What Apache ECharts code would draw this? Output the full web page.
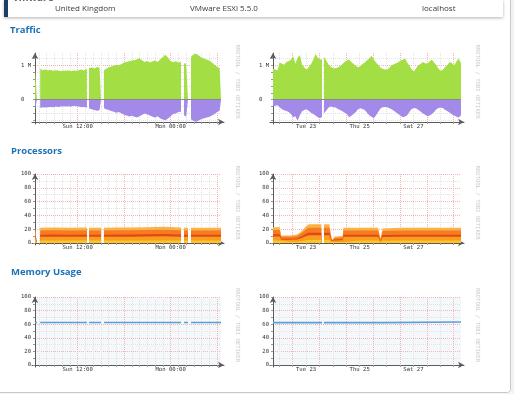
<!DOCTYPE html>
<html><head><meta charset="utf-8">
<script src="https://cdn.jsdelivr.net/npm/echarts@6/dist/echarts.min.js"></script>
<style>html,body{margin:0;padding:0;background:#fff}#c{width:514px;height:394px}</style>
</head><body><div id="c"></div><script>
// ---------- DATA ----------
const headerTexts = ['United Kingdom', 'VMware ESXi 5.5.0', 'localhost'];
const sectionTitles = ['Traffic', 'Processors', 'Memory Usage'];
const watermark = 'RRDTOOL / TOBI OETIKER';

// day graph: hours since Sun 00:00
const dayXLabelValues = [12, 24];
const dayXLabels = ['Sun 12:00', 'Mon 00:00'];
const dayXMinor = [7,8,9,10,11,12,13,14,15,16,17,18,19,20,21,22,23,24,25,26,27,28,29,30];
const dayXMajor = [12, 18, 24, 30];
// week graph: hours since Mon 22 00:00
const weekXLabelValues = [36, 84, 132];
const weekXLabels = ['Tue 23', 'Thu 25', 'Sat 27'];
const weekXMinor = [12,24,36,48,60,72,84,96,108,120,132,144,156,168];
const weekXMajor = [24,48,72,96,120,144,168];

const trafficYLabelValues = [0, 1];
const trafficYLabels = ['0  ', '1 M'];
const trafficYMinor = [-0.6,-0.4,-0.2,0,0.2,0.4,0.6,0.8,1,1.2];
const trafficYMajor = [0, 1];
const pctYLabelValues = [0, 20, 40, 60, 80, 100];
const pctYLabels = ['0', '20', '40', '60', '80', '100'];
const pctYMinor = [0,10,20,30,40,50,60,70,80,90,100];
const pctYMajor = [20,40,60,80,100];

// Traffic (M), day
const dayTimes = [6.5,6.75,6.9,
 7.17,7.5,7.83,8.17,8.5,8.83,9.17,9.5,9.83,10.17,10.5,10.83,11.17,11.5,11.83,12.17,12.5,12.83,13.2,13.3,
 13.47,13.83,14.17,14.5,14.83,15.02,15.2,
 15.4,15.67,16.0,16.33,16.67,17.0,17.33,17.67,18.0,18.33,18.67,19.0,19.33,19.67,20.0,20.33,20.67,21.0,21.33,21.67,22.0,22.33,22.67,23.0,23.33,23.67,24.0,24.33,24.67,25.0,25.34,25.5,
 25.73,26.0,26.24,26.4,
 26.63,27.0,27.33,27.67,28.0,28.33,28.67,29.0,29.33,29.67,30.0,30.33,30.5];
const dayInbound = [0.94,0.92,null,
 0.90,0.86,0.88,0.85,0.87,0.84,0.86,0.85,0.83,0.85,0.84,0.86,0.83,0.85,0.84,0.86,0.88,0.85,0.90,null,
 0.92,0.94,0.91,0.95,0.93,0.96,null,
 0.86,0.90,0.94,0.97,0.99,1.02,1.00,1.04,1.08,1.10,1.12,1.14,1.15,1.18,1.21,1.14,1.10,1.13,1.08,1.12,1.14,1.10,1.18,1.24,1.31,1.22,1.12,1.10,1.12,1.08,1.10,null,
 1.06,1.05,1.07,null,
 1.25,1.32,1.34,1.28,1.22,1.20,1.16,1.14,1.08,1.02,0.96,0.92,0.90];
const dayOutbound = [-0.30,-0.32,null,
 -0.24,-0.22,-0.23,-0.22,-0.21,-0.22,-0.20,-0.21,-0.20,-0.19,-0.20,-0.19,-0.20,-0.18,-0.19,-0.20,-0.22,-0.21,-0.23,null,
 -0.26,-0.28,-0.30,-0.32,-0.31,-0.34,null,
 -0.25,-0.28,-0.30,-0.33,-0.35,-0.38,-0.36,-0.40,-0.44,-0.46,-0.49,-0.47,-0.50,-0.52,-0.48,-0.44,-0.40,-0.43,-0.46,-0.50,-0.52,-0.48,-0.55,-0.58,-0.60,-0.55,-0.48,-0.42,-0.40,-0.36,-0.35,null,
 -0.45,-0.50,-0.48,null,
 -0.58,-0.62,-0.64,-0.60,-0.56,-0.54,-0.52,-0.50,-0.46,-0.42,-0.36,-0.32,-0.30];

// Traffic (M), week
const weekTimes = [6.5,8.5,10.5,12.5,14.5,16.5,18.5,20.5,22.5,24.5,26.5,28.5,30.5,32.5,34.5,36.5,38.5,40.5,42.5,44.5,46.5,48.5,
 50.3,51.0,52.0,
 54.5,56.5,58.5,60.5,62.5,64.5,66.5,68.5,70.5,72.5,74.5,76.5,78.5,80.5,82.5,84.5,86.5,88.5,90.5,92.5,
 94.5,96.5,98.5,100.5,102.5,104.5,106.5,108.5,110.5,112.5,114.5,116.5,118.5,120.5,122.5,124.5,126.5,128.5,130.5,132.5,
 134.5,136.5,138.5,140.5,142.5,144.5,146.5,148.5,150.5,152.5,154.5,156.5,158.5,160.5,162.5,164.5,166.5,168.5,170.5,172.5,174.5];
const weekInbound = [0.91,0.88,0.86,1.08,1.05,1.02,1.10,1.12,1.16,1.27,1.05,1.22,1.30,1.02,0.94,0.88,0.95,1.04,1.16,1.33,1.22,1.18,
 1.17,null,1.25,
 1.12,1.00,0.95,0.91,0.92,0.94,0.98,1.04,1.10,1.14,1.17,1.10,1.04,0.99,0.94,0.98,1.04,1.08,1.15,1.20,
 1.28,1.18,1.08,1.02,0.94,0.90,0.88,0.88,0.93,1.00,1.03,1.06,1.09,1.14,1.16,1.20,1.08,0.98,0.88,0.82,
 0.92,1.00,1.05,1.10,1.06,1.05,1.12,1.16,1.08,1.00,0.90,0.84,0.88,0.96,1.02,1.10,1.06,1.00,1.12,1.20,1.06];
const weekOutbound = [-0.20,-0.18,-0.16,-0.22,-0.28,-0.31,-0.33,-0.36,-0.42,-0.51,-0.48,-0.61,-0.45,-0.34,-0.30,-0.28,-0.33,-0.38,-0.42,-0.46,-0.51,-0.54,
 -0.50,null,-0.40,
 -0.30,-0.22,-0.20,-0.22,-0.23,-0.27,-0.30,-0.34,-0.38,-0.42,-0.51,-0.47,-0.42,-0.36,-0.28,-0.25,-0.27,-0.30,-0.38,-0.45,
 -0.50,-0.54,-0.46,-0.36,-0.26,-0.22,-0.21,-0.22,-0.25,-0.28,-0.32,-0.37,-0.42,-0.47,-0.51,-0.49,-0.45,-0.35,-0.27,-0.24,
 -0.26,-0.30,-0.35,-0.40,-0.44,-0.48,-0.46,-0.42,-0.36,-0.28,-0.24,-0.23,-0.25,-0.30,-0.34,-0.38,-0.43,-0.46,-0.50,-0.52,-0.45];

// Processors (%), stacked layers bottom -> top
const dayCpuTimes = [6.5,6.75,6.9,7.17,9,11,13.2,13.3,13.47,15.02,15.2,15.4,17,19,21,23,25.34,25.5,25.73,26.24,26.4,26.63,28.5,30.5];
const dayCpu1 = [3.5,3.5,null,3.5,3.6,3.5,3.6,null,3.5,3.5,null,3.5,3.6,3.6,3.7,3.8,3.6,null,3.5,3.5,null,3.5,3.5,3.5];
const dayCpu2 = [5.5,5.5,null,5.5,5.6,5.5,5.6,null,5.5,5.5,null,5.5,5.6,5.6,5.8,5.9,5.6,null,5.5,5.5,null,5.5,5.5,5.5];
const dayCpu3 = [3.0,3.0,null,3.0,3.1,3.0,3.1,null,3.0,3.0,null,3.0,3.1,3.1,3.2,3.2,3.1,null,3.0,3.0,null,3.0,3.0,3.0];
const dayCpu4 = [6.0,6.0,null,6.0,6.1,6.0,6.1,null,6.0,6.0,null,6.0,6.1,6.1,6.2,6.4,6.1,null,6.0,6.0,null,6.0,6.0,6.0];
const dayCpu5 = [4.0,4.0,null,4.0,4.1,4.0,4.1,null,4.0,4.0,null,4.0,4.1,4.1,4.1,4.2,4.1,null,4.0,4.0,null,4.0,4.0,4.0];
const weekCpuTimes = [6.5,12.5,13.8,21.5,27.5,30.4,33.1,35.8,38.5,49.7,50.8,52.1,56.9,58.7,60.0,61.3,68.8,69.4,85,100.4,102.6,104.4,105.3,120,140,160,174.5];
const weekCpu1 = [3.7,3.7,1.8,1.8,1.9,2.4,3.0,3.8,4.3,4.3,null,4.3,4.3,1.3,0.6,1.4,1.6,3.5,3.5,3.5,1.0,3.4,3.5,3.5,3.5,3.5,3.5];
const weekCpu2 = [5.8,5.8,2.8,2.8,3.0,3.8,4.8,6.0,6.8,6.8,null,6.8,6.8,2.0,1.0,2.3,2.5,5.5,5.5,5.5,1.5,5.3,5.5,5.5,5.5,5.5,5.5];
const weekCpu3 = [3.2,3.2,1.5,1.5,1.7,2.1,2.7,3.4,3.8,3.8,null,3.8,3.8,1.1,0.6,1.3,1.4,3.1,3.1,3.1,0.8,2.9,3.1,3.1,3.1,3.1,3.1];
const weekCpu4 = [6.2,6.2,3.0,3.0,3.2,4.0,5.1,6.5,7.3,7.3,null,7.3,7.3,2.2,1.1,2.4,2.7,5.9,5.9,5.9,1.6,5.7,5.9,5.9,5.9,5.9,5.9];
const weekCpu5 = [4.1,4.1,1.9,1.9,2.2,2.7,3.4,4.3,4.8,4.8,null,4.8,4.8,1.4,0.7,1.6,1.8,4.0,4.0,4.0,1.1,3.7,4.0,4.0,4.0,4.0,4.0];

// Memory (%)
const dayMemTimes = [6.5,6.75,6.9,7.17,9,11,13.2,13.3,13.47,15.02,15.2,15.4,17,19,21,23,25.34,25.5,25.73,26.24,26.4,26.63,28.5,30.5];
const dayMem = [62.5,62.5,null,62.5,62.5,62.5,62.5,null,62.5,62.5,null,62.5,62.5,62.5,62.5,62.5,62.5,null,62.5,62.5,null,62.5,62.5,62.5];
const weekMemTimes = [6.5,50.3,51.0,52.0,104.0,104.5,174.5];
const weekMem = [62.3,62.3,null,62.3,62.3,63.2,63.2];

// ---------- STYLE / BUILD ----------
const MONO = '"DejaVu Sans Mono", monospace';
const GREEN = '#a3de44', PURPLE = '#a48ae8';
const CPU_COLORS = ['#fdc52a', '#f99d1c', '#e2471b', '#f57c1f', '#fbb148'];
const MINOR = '#e3e3e3', MAJOR = '#f5b4b4', AXIS = '#5a5a5a';
const grids = [], xAxes = [], yAxes = [], series = [], graphics = [];

function pairs(t, v) { return t.map((x, i) => [x, v[i]]); }
function lookup(vals, labs) { return v => { const i = vals.findIndex(a => Math.abs(a - v) < 1e-6); return i < 0 ? '' : labs[i]; }; }
// running totals of stacked layers (what a stacked chart draws as each layer's top edge)
function cumulate(layers) {
  const out = [];
  layers.forEach((l, k) => out.push(l.map((v, i) => (v == null || (k && out[k - 1][i] == null)) ? null : (k ? out[k - 1][i] : 0) + v)));
  return out;
}

function addPanel(p) {
  const g = grids.length;
  grids.push({left: p.left, top: p.top, width: p.width, height: p.height, show: !!p.bg,
    backgroundColor: p.bg || 'transparent', borderWidth: 0, outerBoundsMode: 'none', containLabel: false});
  grids.push({left: p.left - 3, top: p.top, width: p.width + 6, height: p.height + 2, show: false,
    outerBoundsMode: 'none', containLabel: false});
  const xi = xAxes.length, yi = yAxes.length;
  const lab = {fontFamily: MONO, fontSize: 5.6, color: '#333'};
  xAxes.push({type: 'value', gridIndex: g, min: p.xMin, max: p.xMax,
    axisLine: {show: false, onZero: false},
    axisTick: {show: true, customValues: p.xMinor, length: 2, lineStyle: {color: '#999'}},
    axisLabel: Object.assign({show: true, customValues: p.xLabVals, margin: 2, formatter: lookup(p.xLabVals, p.xLabs)}, lab),
    splitLine: {show: true, lineStyle: {color: MINOR, type: [1, 1], width: 1}}});
  xAxes.push({type: 'value', gridIndex: g, min: p.xMin, max: p.xMax,
    axisLine: {show: false, onZero: false}, axisTick: {show: false, customValues: p.xMajor},
    axisLabel: {show: false}, splitLine: {show: true, lineStyle: {color: MAJOR, type: [1, 1], width: 1}}});
  xAxes.push({type: 'value', gridIndex: g + 1, min: 0, max: 1, offset: -2,
    axisLine: {show: true, onZero: false, symbol: ['none', 'arrow'], symbolSize: [5, 6], lineStyle: {color: AXIS, width: 1}},
    axisTick: {show: false}, axisLabel: {show: false}, splitLine: {show: false}});
  yAxes.push({type: 'value', gridIndex: g, min: p.yMin, max: p.yMax,
    axisLine: {show: false, onZero: false},
    axisTick: {show: true, customValues: p.yMinor, length: 2, lineStyle: {color: '#999'}},
    axisLabel: Object.assign({show: true, customValues: p.yLabVals, margin: 4, formatter: lookup(p.yLabVals, p.yLabs)}, lab),
    splitLine: {show: true, lineStyle: {color: MINOR, type: [1, 1], width: 1}}});
  yAxes.push({type: 'value', gridIndex: g, min: p.yMin, max: p.yMax,
    axisLine: {show: false, onZero: false}, axisTick: {show: false, customValues: p.yMajor},
    axisLabel: {show: false}, splitLine: {show: true, lineStyle: {color: MAJOR, type: [1, 1], width: 1}}});
  yAxes.push({type: 'value', gridIndex: g + 1, min: 0, max: 1, offset: -3,
    axisLine: {show: true, onZero: false, symbol: ['none', 'arrow'], symbolSize: [5, 6], lineStyle: {color: AXIS, width: 1}},
    axisTick: {show: false}, axisLabel: {show: false}, splitLine: {show: false}});
  p.series.forEach(s => series.push(Object.assign({type: 'line', xAxisIndex: xi, yAxisIndex: yi, symbol: 'none',
    silent: true, animation: false, z: 3, connectNulls: false}, s)));
  graphics.push({type: 'text', x: p.left + p.width + 16, y: p.top + p.height / 2 - 6, rotation: -Math.PI / 2,
    style: {text: watermark, font: '5.6px ' + MONO, fill: '#c9c9c9', align: 'center', verticalAlign: 'middle'}});
}

function areaSeries(t, v, color) {
  return {data: pairs(t, v), lineStyle: {width: 0, opacity: 0}, areaStyle: {color: color, opacity: 1}};
}
// top layer drawn first, lower running totals painted over it
function stackedAreas(t, layers) {
  const tops = cumulate(layers);
  return tops.map((v, k) => areaSeries(t, v, CPU_COLORS[k])).reverse();
}
const zeroLine = {silent: true, symbol: 'none', label: {show: false}, lineStyle: {color: '#8a8a8a', type: 'solid', width: 1}, data: [{yAxis: 0}]};

const trafficCommon = {top: 53, height: 69, yMin: -0.65, yMax: 1.36, yMinor: trafficYMinor, yMajor: trafficYMajor,
  yLabVals: trafficYLabelValues, yLabs: trafficYLabels};
const pctCommon = {yMin: 0, yMax: 100, yMinor: pctYMinor, yMajor: pctYMajor, yLabVals: pctYLabelValues, yLabs: pctYLabels};
const dayCommon = {left: 35, width: 186, xMin: 6.5, xMax: 30.5, xMinor: dayXMinor, xMajor: dayXMajor, xLabVals: dayXLabelValues, xLabs: dayXLabels};
const weekCommon = {left: 273, width: 188, xMin: 6.5, xMax: 174.5, xMinor: weekXMinor, xMajor: weekXMajor, xLabVals: weekXLabelValues, xLabs: weekXLabels};

addPanel(Object.assign({}, dayCommon, trafficCommon, {series: [
  Object.assign(areaSeries(dayTimes, dayInbound, GREEN), {markLine: zeroLine}),
  areaSeries(dayTimes, dayOutbound, PURPLE)]}));
addPanel(Object.assign({}, weekCommon, trafficCommon, {series: [
  Object.assign(areaSeries(weekTimes, weekInbound, GREEN), {markLine: zeroLine}),
  areaSeries(weekTimes, weekOutbound, PURPLE)]}));

addPanel(Object.assign({}, dayCommon, pctCommon, {top: 174, height: 69,
  series: stackedAreas(dayCpuTimes, [dayCpu1, dayCpu2, dayCpu3, dayCpu4, dayCpu5])}));
addPanel(Object.assign({}, weekCommon, pctCommon, {top: 174, height: 69,
  series: stackedAreas(weekCpuTimes, [weekCpu1, weekCpu2, weekCpu3, weekCpu4, weekCpu5])}));

const memLine = (t, v) => ({data: pairs(t, v), lineStyle: {color: '#5a9fdc', width: 1.6}});
addPanel(Object.assign({}, dayCommon, pctCommon, {top: 297, height: 68, bg: '#f4f8fb', series: [memLine(dayMemTimes, dayMem)]}));
addPanel(Object.assign({}, weekCommon, pctCommon, {top: 297, height: 68, bg: '#f4f8fb', series: [memLine(weekMemTimes, weekMem)]}));

// page decoration
graphics.unshift(
  {type: 'rect', shape: {x: 511, y: 0, width: 3, height: 394}, style: {fill: '#f2f2f2'}, z: -10},
  {type: 'rect', shape: {x: 0, y: 393, width: 514, height: 1}, style: {fill: '#f2f2f2'}, z: -10},
  {type: 'rect', shape: {x: -10, y: -10, width: 520.5, height: 402.5, r: 3}, style: {fill: 'none', stroke: '#c8c8c8', lineWidth: 1}, z: -9},
  {type: 'rect', shape: {x: 4, y: 0, width: 499, height: 17}, style: {fill: '#fff', shadowBlur: 3, shadowColor: 'rgba(0,0,0,0.3)', shadowOffsetY: 1}, z: -8},
  {type: 'rect', shape: {x: 4, y: 0, width: 4, height: 17}, style: {fill: '#1f3c66'}, z: -7},
  {type: 'text', x: 13, y: 3.5, style: {text: 'vmware', font: 'bold 10px "Open Sans"', fill: '#6a6a6a', verticalAlign: 'bottom'}},
  {type: 'text', x: 55, y: 8.5, style: {text: headerTexts[0], font: '8px "Open Sans"', fill: '#3a3a3a', verticalAlign: 'middle'}},
  {type: 'text', x: 190, y: 8.5, style: {text: headerTexts[1], font: '8px "Open Sans"', fill: '#3a3a3a', verticalAlign: 'middle'}},
  {type: 'text', x: 422, y: 8.5, style: {text: headerTexts[2], font: '8px "Open Sans"', fill: '#3a3a3a', verticalAlign: 'middle'}},
  {type: 'text', x: 10, y: 30, style: {text: sectionTitles[0], font: 'bold 9.5px "Open Sans"', fill: '#1a72b8', verticalAlign: 'middle'}},
  {type: 'text', x: 11, y: 151.5, style: {text: sectionTitles[1], font: 'bold 9.5px "Open Sans"', fill: '#1a72b8', verticalAlign: 'middle'}},
  {type: 'text', x: 11, y: 272.5, style: {text: sectionTitles[2], font: 'bold 9.5px "Open Sans"', fill: '#1a72b8', verticalAlign: 'middle'}}
);

const chart = echarts.init(document.getElementById('c'), null, {renderer: 'canvas'});
chart.setOption({animation: false, backgroundColor: '#fff', grid: grids, xAxis: xAxes, yAxis: yAxes, series: series, graphic: {elements: graphics}});
</script></body></html>
